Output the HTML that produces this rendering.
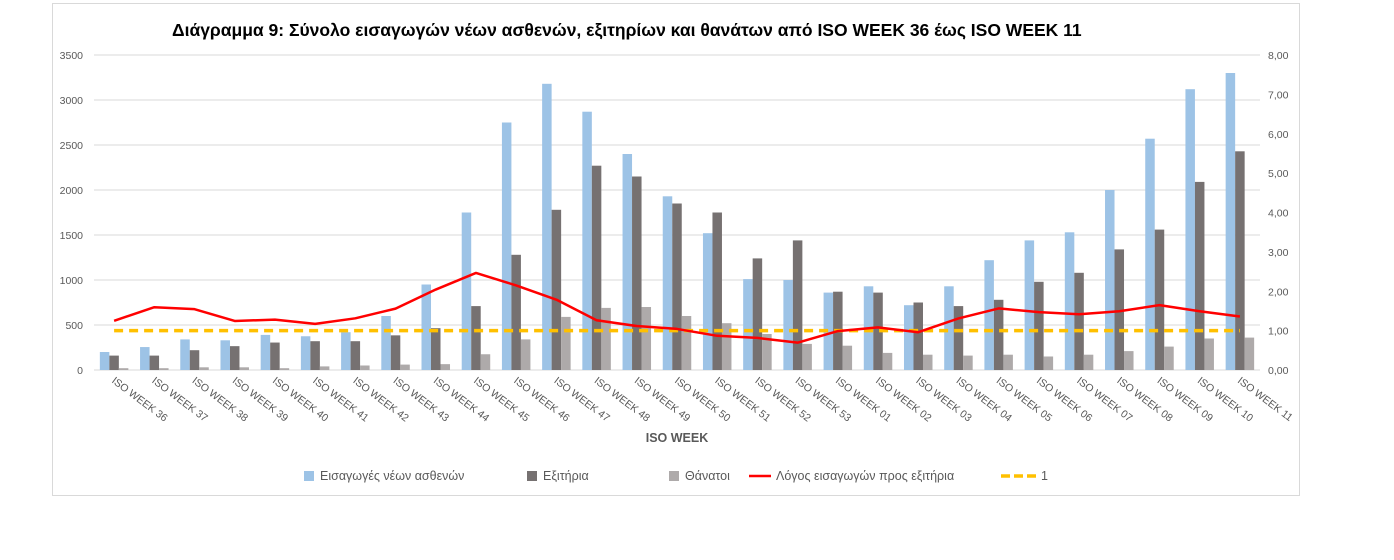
<!DOCTYPE html>
<html><head><meta charset="utf-8"><style>
body{margin:0;background:#fff;}
svg{display:block;font-family:"Liberation Sans",sans-serif;}
</style></head><body>
<svg id="c" width="1394" height="560" xmlns="http://www.w3.org/2000/svg"></svg>
<script>
const d=[[200,160,20],[255,160,20],[340,220,30],[330,265,30],[390,305,20],[375,320,40],[420,320,50],[600,385,60],[950,465,65],[1750,710,175],[2750,1280,340],[3180,1780,590],[2870,2270,690],[2400,2150,700],[1930,1850,600],[1520,1750,520],[1010,1240,400],[1000,1440,290],[860,870,270],[930,860,190],[720,750,170],[930,710,160],[1220,780,170],[1440,980,150],[1530,1080,170],[2000,1340,210],[2570,1560,260],[3120,2090,350],[3300,2430,360]];
const labs=[];for(let i=36;i<=53;i++)labs.push("ISO WEEK "+i);for(let i=1;i<=11;i++)labs.push("ISO WEEK "+(i<10?"0":"")+i);
const L=94,R=1260,Y0=370,Y1=55,n=29,w=(R-L)/n;
const y=v=>Y0-v*(Y0-Y1)/3500, yr=v=>Y0-v*(Y0-Y1)/8;
let s='<rect x="52.5" y="3.5" width="1247" height="492" fill="#fff" stroke="#d9d9d9"/>';
s+='<text x="172" y="36" font-size="17.5" font-weight="bold" fill="#000">Διάγραμμα 9: Σύνολο εισαγωγών νέων ασθενών, εξιτηρίων και θανάτων από ISO WEEK 36 έως ISO WEEK 11</text>';
for(let v=0;v<=3500;v+=500){const yy=y(v);s+=`<line x1="${L}" x2="${R}" y1="${yy}" y2="${yy}" stroke="#d9d9d9"/><text x="83" y="${yy+4}" font-size="10.5" fill="#595959" text-anchor="end">${v}</text>`;}
for(let v=0;v<=8;v++){s+=`<text x="1268" y="${yr(v)+4}" font-size="10.5" fill="#595959">${v.toFixed(2).replace('.',',')}</text>`;}
const bw=9.5;
d.forEach((r,i)=>{const c=L+w*i+w/2;
s+=`<rect x="${c-1.5*bw}" y="${y(r[0])}" width="${bw}" height="${Y0-y(r[0])}" fill="#9dc3e6"/>`;
s+=`<rect x="${c-0.5*bw}" y="${y(r[1])}" width="${bw}" height="${Y0-y(r[1])}" fill="#767171"/>`;
s+=`<rect x="${c+0.5*bw}" y="${y(r[2])}" width="${bw}" height="${Y0-y(r[2])}" fill="#aeaaaa"/>`;
s+=`<text transform="translate(${c-3},${Y0+12}) rotate(37)" font-size="10.5" fill="#595959">${labs[i]}</text>`;});
s+=`<line x1="${L+w/2}" x2="${R-w/2}" y1="${yr(1)}" y2="${yr(1)}" stroke="#ffc000" stroke-width="3.5" stroke-dasharray="9,6"/>`;
let p=d.map((r,i)=>`${L+w*i+w/2},${yr(r[0]/r[1])}`).join(' ');
s+=`<polyline points="${p}" fill="none" stroke="#ff0000" stroke-width="2.5" stroke-linejoin="round"/>`;
s+=`<text x="677" y="442" font-size="12.5" font-weight="bold" fill="#595959" text-anchor="middle">ISO WEEK</text>`;
const ly=476;
s+=`<rect x="304" y="${ly-5}" width="10" height="10" fill="#9dc3e6"/><text x="320" y="${ly+4}" font-size="12.5" fill="#595959">Εισαγωγές νέων ασθενών</text>`;
s+=`<rect x="527" y="${ly-5}" width="10" height="10" fill="#767171"/><text x="543" y="${ly+4}" font-size="12.5" fill="#595959">Εξιτήρια</text>`;
s+=`<rect x="669" y="${ly-5}" width="10" height="10" fill="#aeaaaa"/><text x="685" y="${ly+4}" font-size="12.5" fill="#595959">Θάνατοι</text>`;
s+=`<line x1="749" x2="771" y1="${ly}" y2="${ly}" stroke="#ff0000" stroke-width="2.5"/><text x="776" y="${ly+4}" font-size="12.5" fill="#595959">Λόγος εισαγωγών προς εξιτήρια</text>`;
s+=`<line x1="1001" x2="1036" y1="${ly}" y2="${ly}" stroke="#ffc000" stroke-width="3.5" stroke-dasharray="9,4"/><text x="1041" y="${ly+4}" font-size="12.5" fill="#595959">1</text>`;
document.getElementById('c').innerHTML=s;
</script>
</body></html>
